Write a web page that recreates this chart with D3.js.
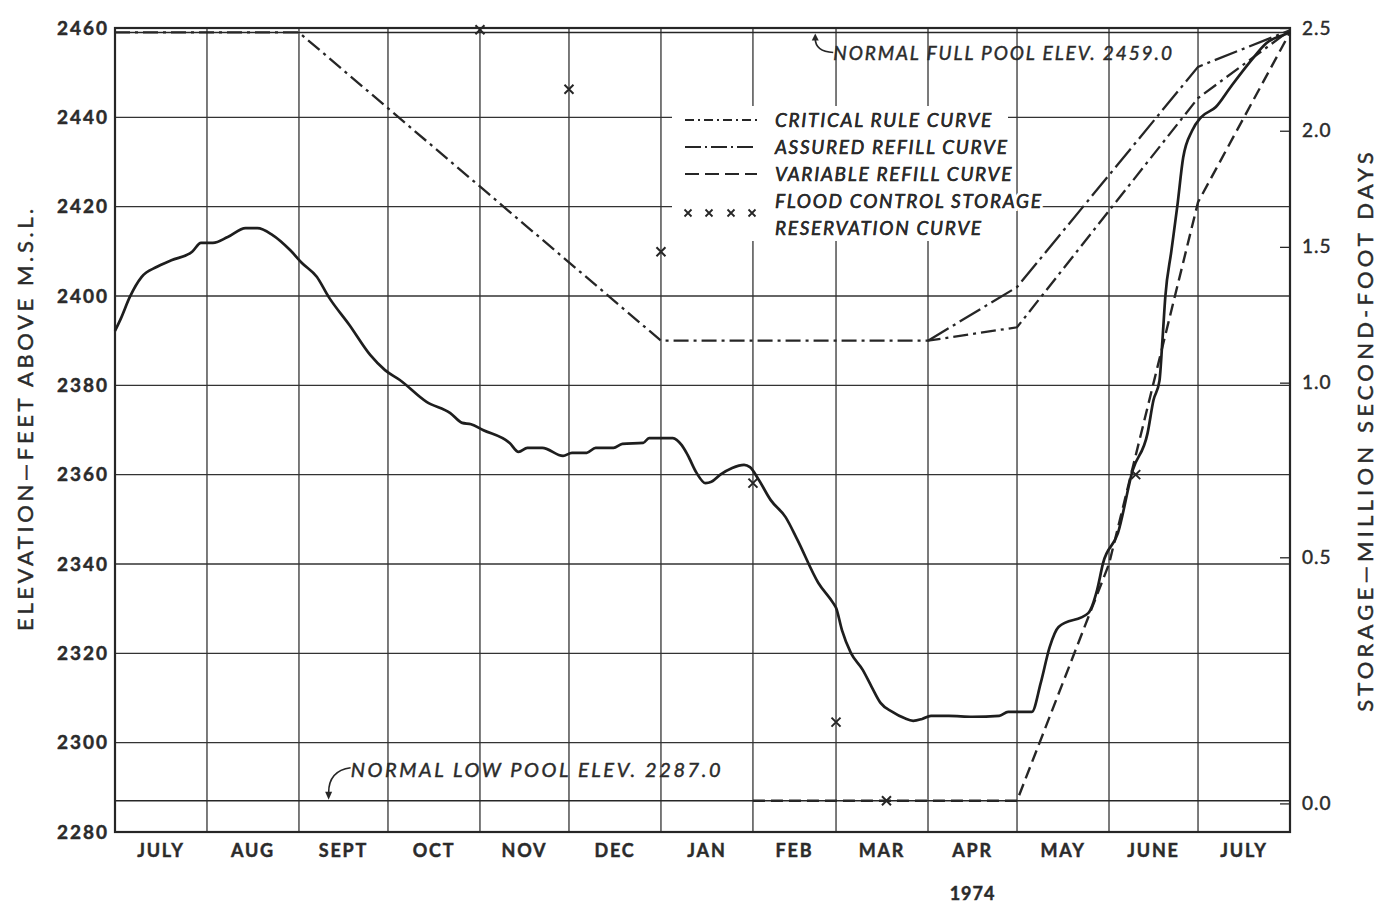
<!DOCTYPE html>
<html lang="en">
<head>
<meta charset="UTF-8">
<title>Reservoir operation 1973-74</title>
<script src="https://d3js.org/d3.v7.min.js"></script>
<style>
  body { margin: 0; background: #fff; }
  svg text { font-family: 'Lato', 'DejaVu Sans', sans-serif; fill: #2b2b2b; }
  svg text.heavy { stroke: #2b2b2b; stroke-width: 0.45px; }
</style>
</head>
<body>
<div id="chart"></div>
<script>
// ---- data ----
var monthLabels = ["JULY", "AUG", "SEPT", "OCT", "NOV", "DEC", "JAN", "FEB", "MAR", "APR", "MAY", "JUNE", "JULY"];
var elevTicks = [2280, 2300, 2320, 2340, 2360, 2380, 2400, 2420, 2440, 2460];
// storage scale on the right is not linear in elevation
var storageLabels = [0.0, 0.5, 1.0, 1.5, 2.0, 2.5];
var storageElev = [2286.4, 2341.5, 2380.6, 2411, 2437, 2460];

var fullPool = 2459.0;
var lowPool = 2287.0;

// observed reservoir elevation
var observed = [
  ["1973-07-01", 2392.2], ["1973-07-03", 2395], ["1973-07-06", 2399.8], ["1973-07-10", 2404.3],
  ["1973-07-15", 2406.5], ["1973-07-20", 2408], ["1973-07-27", 2409.9], ["1973-07-30", 2411.9],
  ["1973-08-03", 2411.9], ["1973-08-08", 2413.2], ["1973-08-14", 2415.2], ["1973-08-18", 2415.2],
  ["1973-08-23", 2413.7], ["1973-08-29", 2410.3], ["1973-09-02", 2407.4], ["1973-09-07", 2404.3],
  ["1973-09-11", 2399.8], ["1973-09-18", 2393.5], ["1973-09-25", 2386.8], ["1973-09-30", 2383.4],
  ["1973-10-05", 2381.2], ["1973-10-14", 2376.3], ["1973-10-22", 2373.8], ["1973-10-26", 2371.6],
  ["1973-10-29", 2371.3], ["1973-11-02", 2370], ["1973-11-11", 2367.1], ["1973-11-14", 2365.1],
  ["1973-11-17", 2366], ["1973-11-22", 2366], ["1973-11-29", 2364.2], ["1973-12-02", 2364.9],
  ["1973-12-07", 2364.9], ["1973-12-10", 2366], ["1973-12-16", 2366], ["1973-12-19", 2366.9],
  ["1973-12-26", 2367.1], ["1973-12-28", 2368.2], ["1974-01-05", 2368.2], ["1974-01-08", 2366.6],
  ["1974-01-10", 2364.4], ["1974-01-13", 2360.4], ["1974-01-16", 2358.1], ["1974-01-18", 2358.4],
  ["1974-01-21", 2360], ["1974-01-25", 2361.5], ["1974-01-29", 2362.2], ["1974-01-31", 2361.7],
  ["1974-02-03", 2358.8], ["1974-02-07", 2354.3], ["1974-02-12", 2350.5], ["1974-02-16", 2345.4],
  ["1974-02-23", 2335.8], ["1974-02-28", 2331.3], ["1974-03-01", 2330.2], ["1974-03-03", 2325.2],
  ["1974-03-06", 2320.1], ["1974-03-10", 2316.3], ["1974-03-13", 2312.5], ["1974-03-16", 2308.9],
  ["1974-03-20", 2306.9], ["1974-03-24", 2305.5], ["1974-03-27", 2304.9], ["1974-03-30", 2305.3],
  ["1974-04-02", 2306], ["1974-04-08", 2306], ["1974-04-16", 2305.8], ["1974-04-25", 2306],
  ["1974-04-28", 2306.9], ["1974-05-06", 2306.9], ["1974-05-09", 2313.4], ["1974-05-12", 2321.4],
  ["1974-05-15", 2325.9], ["1974-05-25", 2329], ["1974-05-28", 2334.2], ["1974-05-30", 2340.2],
  ["1974-06-04", 2346.9], ["1974-06-09", 2361], ["1974-06-14", 2369.3], ["1974-06-16", 2376.7],
  ["1974-06-18", 2381], ["1974-06-19", 2390], ["1974-06-20", 2400], ["1974-06-22", 2410],
  ["1974-06-24", 2420], ["1974-06-26", 2431], ["1974-06-29", 2437], ["1974-07-02", 2440],
  ["1974-07-07", 2442.3], ["1974-07-12", 2446.8], ["1974-07-19", 2452.8], ["1974-07-24", 2456.6],
  ["1974-07-30", 2458.5], ["1974-08-01", 2459]
];

var criticalRule = [
  ["1973-07-01", 2459], ["1973-09-01", 2459], ["1974-01-01", 2390], ["1974-04-01", 2390],
  ["1974-05-01", 2393], ["1974-07-01", 2444.3], ["1974-08-01", 2459.5]
];
var assuredRefill = [
  ["1974-04-01", 2390], ["1974-05-01", 2402], ["1974-07-01", 2451.3], ["1974-08-01", 2459.5]
];
var variableRefill = [
  ["1974-02-01", 2287], ["1974-05-01", 2287], ["1974-06-01", 2340], ["1974-07-01", 2421],
  ["1974-08-01", 2459]
];
var floodControl = [
  ["1973-11-01", 2459.6], ["1973-12-01", 2446.3], ["1974-01-01", 2409.9], ["1974-02-01", 2358.1],
  ["1974-03-01", 2304.6], ["1974-03-18", 2287], ["1974-06-10", 2360]
];

// ---- drawing ----
var parse = d3.utcParse("%Y-%m-%d");
var ink = "#262626";

var svg = d3.select("#chart")
  .append("svg")
  .attr("width", 1388)
  .attr("height", 909);

var start = Date.UTC(1973, 6, 1), end = Date.UTC(1974, 7, 1);

var x = d3.scaleUtc()
  .domain([start, end])
  .range([115, 1290]);

var y = d3.scaleLinear()
  .domain([2280, 2460])
  .range([832, 28]);

// storage (million sfd) -> elevation -> pixel
var yStorage = d3.scaleLinear()
  .domain(storageLabels)
  .range(storageElev.map(function (e) { return y(e); }));

// grid
var grid = svg.append("g").attr("stroke", "#333").attr("stroke-width", 1.3);

grid.selectAll(".h")
  .data(elevTicks.slice(1, -1))
  .enter()
  .append("line")
  .attr("x1", x.range()[0]).attr("x2", x.range()[1])
  .attr("y1", function (d) { return y(d); })
  .attr("y2", function (d) { return y(d); });

var monthStarts = d3.utcMonth.range(new Date(start), new Date(end));

grid.selectAll(".v")
  .data(monthStarts.slice(1))
  .enter()
  .append("line")
  .attr("x1", function (d) { return x(d); }).attr("x2", function (d) { return x(d); })
  .attr("y1", y.range()[1]).attr("y2", y.range()[0]);

// pool lines
svg.append("line")
  .attr("x1", x.range()[0]).attr("x2", x.range()[1])
  .attr("y1", y(fullPool)).attr("y2", y(fullPool))
  .attr("stroke", ink).attr("stroke-width", 1.6);

svg.append("line")
  .attr("x1", x.range()[0]).attr("x2", x.range()[1])
  .attr("y1", y(lowPool)).attr("y2", y(lowPool))
  .attr("stroke", ink).attr("stroke-width", 1.6);

// frame
svg.append("rect")
  .attr("x", x.range()[0]).attr("y", y.range()[1])
  .attr("width", x.range()[1] - x.range()[0])
  .attr("height", y.range()[0] - y.range()[1])
  .attr("fill", "none")
  .attr("stroke", ink)
  .attr("stroke-width", 2.2);

// left axis
var yAxis = svg.append("g")
  .attr("transform", "translate(" + x.range()[0] + ",0)")
  .call(d3.axisLeft(y).tickValues(elevTicks).tickFormat(d3.format("d")).tickSize(0).tickPadding(6));
yAxis.select(".domain").remove();
yAxis.selectAll("text")
  .attr("class", "heavy")
  .style("font-size", "19px")
  .style("font-weight", "bold")
  .style("letter-spacing", "2px")
  .attr("fill", "#2b2b2b");

// right axis, inward ticks
var rAxis = svg.append("g")
  .attr("transform", "translate(" + x.range()[1] + ",0)")
  .call(d3.axisRight(yStorage).tickValues(storageLabels).tickFormat(d3.format(".1f"))
    .tickSizeInner(-10).tickSizeOuter(0).tickPadding(12));
rAxis.select(".domain").remove();
rAxis.selectAll("line").attr("stroke", ink).attr("stroke-width", 1.3);
rAxis.selectAll("text")
  .attr("class", "heavy")
  .style("font-size", "19px")
  .style("letter-spacing", "1px")
  .attr("fill", "#2b2b2b");

// month labels
svg.append("g")
  .selectAll("text")
  .data(monthStarts)
  .enter()
  .append("text")
  .attr("class", "heavy")
  .attr("x", function (d) { return (x(d) + x(d3.utcMonth.offset(d, 1))) / 2; })
  .attr("y", 857)
  .attr("text-anchor", "middle")
  .style("font-size", "18px")
  .style("font-weight", "bold")
  .style("letter-spacing", "1.8px")
  .text(function (d, i) { return monthLabels[i]; });

svg.append("text")
  .attr("class", "heavy")
  .attr("x", x(Date.UTC(1974, 3, 16)))
  .attr("y", 900)
  .attr("text-anchor", "middle")
  .style("font-size", "18px")
  .style("font-weight", "bold")
  .style("letter-spacing", "1px")
  .text("1974");

// axis titles
svg.append("text")
  .attr("class", "heavy")
  .attr("transform", "translate(33,418) rotate(-90)")
  .attr("text-anchor", "middle")
  .style("font-size", "22px")
  .style("letter-spacing", "3.6px")
  .text("ELEVATION\u2014FEET ABOVE M.S.L.");

svg.append("text")
  .attr("class", "heavy")
  .attr("transform", "translate(1373,430) rotate(-90)")
  .attr("text-anchor", "middle")
  .style("font-size", "22px")
  .style("letter-spacing", "4.2px")
  .text("STORAGE\u2014MILLION SECOND-FOOT DAYS");

// curves
var line = d3.line()
  .x(function (d) { return x(parse(d[0])); })
  .y(function (d) { return y(d[1]); });

svg.append("path")
  .datum(criticalRule)
  .attr("d", line)
  .attr("fill", "none").attr("stroke", ink).attr("stroke-width", 2.3)
  .attr("stroke-dasharray", "15,5,3,5");

svg.append("path")
  .datum(assuredRefill)
  .attr("d", line)
  .attr("fill", "none").attr("stroke", ink).attr("stroke-width", 2.3)
  .attr("stroke-dasharray", "24,5,3,5");

svg.append("path")
  .datum(variableRefill)
  .attr("d", line)
  .attr("fill", "none").attr("stroke", ink).attr("stroke-width", 2.4)
  .attr("stroke-dasharray", "12,6");

svg.append("path")
  .datum(observed)
  .attr("d", line.curve(d3.curveMonotoneX))
  .attr("fill", "none").attr("stroke", "#1e1e1e").attr("stroke-width", 2.7)
  .attr("stroke-linejoin", "round");

var xMark = "M-4.5,-4.5L4.5,4.5M-4.5,4.5L4.5,-4.5";

svg.append("g")
  .selectAll("path")
  .data(floodControl)
  .enter()
  .append("path")
  .attr("transform", function (d) { return "translate(" + x(parse(d[0])) + "," + y(d[1]) + ")"; })
  .attr("d", xMark)
  .attr("stroke", ink).attr("stroke-width", 2);

// legend
var legend = svg.append("g");
legend.append("rect")
  .attr("x", 672).attr("y", 106).attr("width", 336).attr("height", 135)
  .attr("fill", "#fff");

var legendRows = [
  { label: "CRITICAL RULE CURVE", dash: "9,4,2,4", y: 120 },
  { label: "ASSURED REFILL CURVE", dash: "16,4,2,4", y: 147 },
  { label: "VARIABLE REFILL CURVE", dash: "14,6", y: 174 }
];

function legendText(t, ty) {
  legend.append("text")
    .attr("x", 775).attr("y", ty)
    .style("font-size", "19px").style("font-style", "italic").style("letter-spacing", "1.7px")
    .attr("stroke", "#fff").attr("stroke-width", 6).attr("paint-order", "stroke")
    .text(t);
  legend.append("text")
    .attr("class", "heavy")
    .attr("x", 775).attr("y", ty)
    .style("font-size", "19px").style("font-style", "italic").style("letter-spacing", "1.7px")
    .text(t);
}

legendRows.forEach(function (r) {
  legend.append("line")
    .attr("x1", 685).attr("x2", 757)
    .attr("y1", r.y).attr("y2", r.y)
    .attr("stroke", ink).attr("stroke-width", 2)
    .attr("stroke-dasharray", r.dash);
  legendText(r.label, r.y + 7);
});

[688, 709, 731, 752].forEach(function (px) {
  legend.append("path")
    .attr("transform", "translate(" + px + ",213)")
    .attr("d", "M-3.5,-3.5L3.5,3.5M-3.5,3.5L3.5,-3.5")
    .attr("stroke", ink).attr("stroke-width", 1.8);
});

legendText("FLOOD CONTROL STORAGE", 208);
legendText("RESERVATION CURVE", 235);

// pool annotations with curved leaders
var fx = x(Date.UTC(1974, 1, 22)), fy = y(fullPool);
svg.append("path")
  .attr("d", "M" + (fx + 18) + "," + (fy + 20) + "Q" + fx + "," + (fy + 19) + " " + fx + "," + (fy + 6))
  .attr("fill", "none").attr("stroke", ink).attr("stroke-width", 1.6);
svg.append("path")
  .attr("d", "M" + (fx - 3.5) + "," + (fy + 8) + "L" + (fx + 3.5) + "," + (fy + 8) + "L" + fx + "," + (fy + 1) + "Z")
  .attr("fill", ink);
svg.append("text")
  .attr("class", "heavy")
  .attr("x", fx + 18).attr("y", fy + 28)
  .style("font-size", "19px").style("font-style", "italic").style("letter-spacing", "1.9px")
  .text("NORMAL FULL POOL ELEV. 2459.0");

var lx = x(Date.UTC(1973, 8, 11)), ly = y(lowPool);
svg.append("path")
  .attr("d", "M" + (lx + 22) + "," + (ly - 33) + "Q" + lx + "," + (ly - 30) + " " + lx + "," + (ly - 8))
  .attr("fill", "none").attr("stroke", ink).attr("stroke-width", 1.6);
svg.append("path")
  .attr("d", "M" + (lx - 3.5) + "," + (ly - 9) + "L" + (lx + 3.5) + "," + (ly - 9) + "L" + lx + "," + (ly - 1) + "Z")
  .attr("fill", ink);
svg.append("text")
  .attr("class", "heavy")
  .attr("x", lx + 22).attr("y", ly - 24)
  .style("font-size", "20px").style("font-style", "italic").style("letter-spacing", "2.6px")
  .text("NORMAL LOW POOL ELEV. 2287.0");
</script>
</body>
</html>
